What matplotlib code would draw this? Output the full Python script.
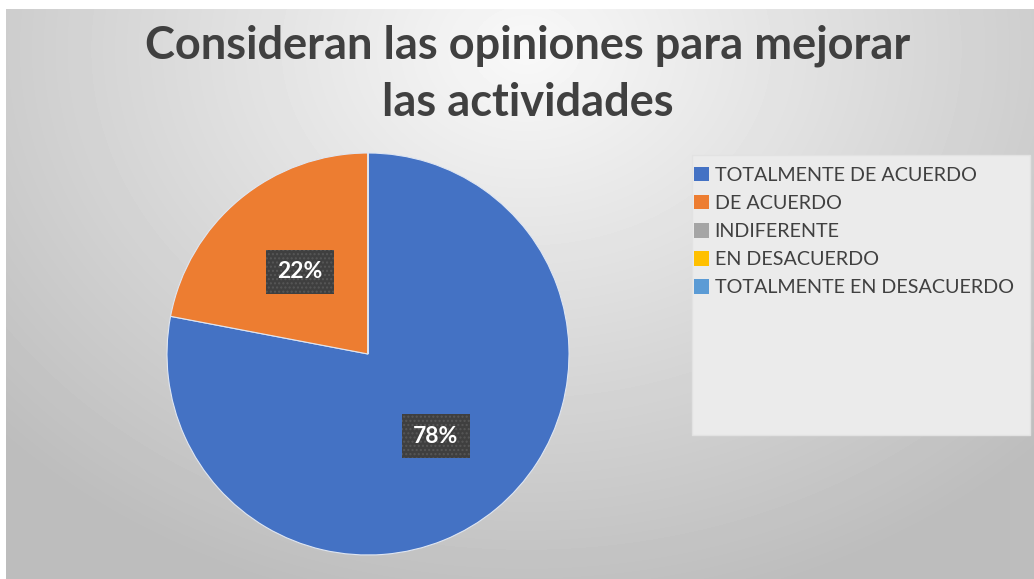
import numpy as np
import matplotlib
matplotlib.use("Agg")
import matplotlib.pyplot as plt
from matplotlib.patches import Rectangle

plt.rcParams['font.family'] = ['Lato', 'DejaVu Sans']

titulo = "Consideran las opiniones para mejorar\nlas actividades"
categorias = ["TOTALMENTE DE ACUERDO", "DE ACUERDO", "INDIFERENTE",
              "EN DESACUERDO", "TOTALMENTE EN DESACUERDO"]
porcentajes = [78, 22, 0, 0, 0]
colores = ["#4472C4", "#ED7D31", "#A5A5A5", "#FFC000", "#5B9BD5"]

W, H = 1034, 579
fig = plt.figure(figsize=(W / 100, H / 100), dpi=100)
fig.patch.set_facecolor("white")

# fondo del grafico: degradado radial gris
bg = fig.add_axes([6 / W, 0, 1 - 6 / W, 1 - 9 / H])
bg.set_axis_off()
yy, xx = np.mgrid[0:H - 9, 0:W - 6]
d = np.sqrt(((xx - 520) / 700.0) ** 2 + ((yy - 40) / 560.0) ** 2)
tono = np.clip(0.975 - 0.23 * d, 0.74, 1.0)
bg.imshow(tono, cmap="gray", vmin=0, vmax=1, aspect="auto",
          extent=(0, 1, 0, 1), origin="upper", interpolation="bilinear")
bg.set_xlim(0, 1)
bg.set_ylim(0, 1)

fig.text(528 / W, 1 - 74 / H, titulo, ha="center", va="center",
         fontsize=32.5, fontweight="bold", color="#404040", linespacing=1.45)

# pastel
cx, cy, r = 368, 354, 201
ax = fig.add_axes([(cx - r) / W, (H - cy - r) / H, 2 * r / W, 2 * r / H])


def etiqueta(p):
    return "" if p < 0.5 else f"{p:.0f}%"


wedges, _, autotexts = ax.pie(porcentajes, colors=colores, startangle=90,
                              counterclock=False, autopct=etiqueta,
                              pctdistance=0.53,
                              wedgeprops=dict(edgecolor="#dfe6f2", linewidth=0.8),
                              textprops=dict(color="white", fontsize=16.5,
                                             fontweight="bold"))
for t in autotexts:
    if t.get_text():
        t.set_bbox(dict(boxstyle="square,pad=0.5", facecolor="#3f3f3f",
                        edgecolor="#575757", linewidth=0, hatch="...."))
ax.set_xlim(-1, 1)
ax.set_ylim(-1, 1)
ax.set_axis_off()

# caja de la leyenda
fig.patches.append(Rectangle((692 / W, 1 - 435 / H), 338 / W, 280 / H,
                             transform=fig.transFigure, facecolor="#ebebeb",
                             edgecolor="#e2e2e2", linewidth=1.0, zorder=1))
leg = fig.legend(wedges, categorias, loc="upper left",
                 bbox_to_anchor=(680 / W, 1 - 153 / H), frameon=False,
                 fontsize=14.2, handlelength=0.75, handleheight=0.75,
                 handletextpad=0.3, labelspacing=0.56, borderpad=0.2,
                 labelcolor="#404040")
for h in leg.legend_handles:
    h.set_edgecolor("none")

fig.savefig("out.png", dpi=100)
